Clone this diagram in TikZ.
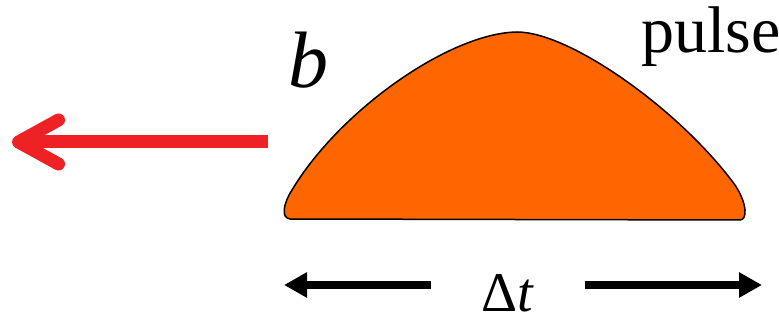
\documentclass[tikz,border=0pt]{standalone}
\usepackage{fontspec}
\setmainfont{Liberation Serif}
\usetikzlibrary{
    arrows.meta,
    positioning
}
\definecolor{pulseorange}{RGB}{255,102,0}
\definecolor{beamred}{RGB}{238,34,36}
\tikzstyle{beam} = [
    -{Straight Barb[length=40pt, width=44pt, round]},
    line width=13pt,
    draw=beamred
]
\tikzstyle{span} = [
    -{Triangle[length=23pt, width=24pt]},
    line width=8pt,
    draw=black
]
\tikzstyle{pulseshape} = [
    draw=black,
    line width=1.5pt,
    fill=pulseorange
]

\begin{document}
\begin{tikzpicture}[x=1pt, y=-1pt]
    \useasboundingbox (0,0) rectangle (779,323);

    % Pulse
    \draw[pulseshape] (290,219)
        .. controls (281,218) and (283,204) .. (292,190)
        .. controls (340,110) and (450,33) .. (517,32)
        .. controls (570,32) and (680,110) .. (735,185)
        .. controls (748,205) and (747,220) .. (740,220)
        -- cycle;

    % Labels
    \node[anchor=base, inner sep=0pt, font=\fontsize{80}{80}\selectfont\itshape] (blabel) at (308,88) {b};
    \node[anchor=base west, inner sep=0pt, font=\fontsize{66}{66}\selectfont] (pulselabel) at (641,53) {pulse};
    \node[anchor=base, inner xsep=50pt, inner ysep=0pt, font=\fontsize{56}{56}\selectfont] (dtlabel) at (508,311) {Δ\textit{t}};

    % Beam direction
    \coordinate (beamstart) at (268,142);
    \coordinate (beamtip) at (12,142);
    \draw[beam] (beamstart) -- (beamtip);

    % Duration
    \coordinate (dtleft) at (284,285);
    \coordinate (dtright) at (762,285);
    \draw[span] (dtlabel.west |- dtleft) -- (dtleft);
    \draw[span] (dtlabel.east |- dtright) -- (dtright);
\end{tikzpicture}
\end{document}
